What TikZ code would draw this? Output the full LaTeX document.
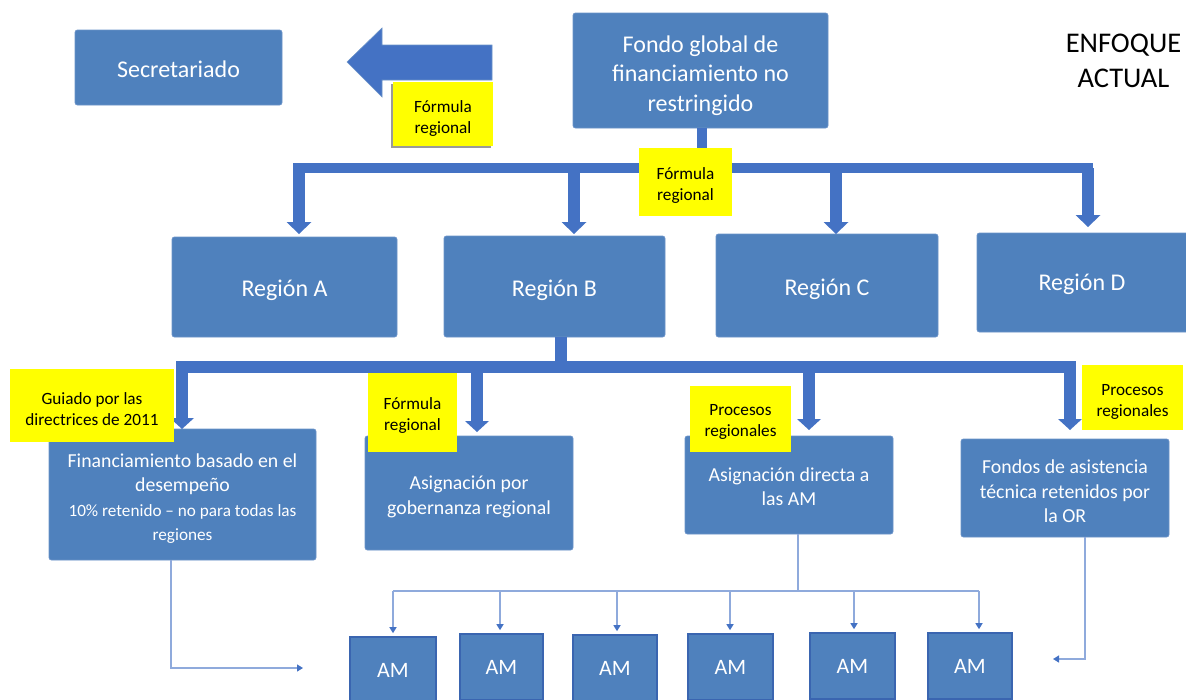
\documentclass[tikz,border=0pt]{standalone}
\usepackage{fontspec}
\setmainfont{Carlito}
\usetikzlibrary{arrows.meta}
\definecolor{boxblue}{HTML}{4F81BD}
\definecolor{boxedge}{HTML}{6A93C8}
\definecolor{arrblue}{HTML}{4472C4}
\definecolor{thinblue}{HTML}{8FAADC}
\definecolor{amedge}{HTML}{3A65B0}
\definecolor{yel}{HTML}{FFFF00}
\definecolor{shadowgray}{HTML}{9A9A9A}
\begin{document}
\begin{tikzpicture}[x=1pt,y=-1pt,
 box/.style={fill=boxblue,draw=boxedge,line width=0.8pt,rounded corners=2.5pt,inner sep=0pt},
 wtxt/.style={text=white,align=center,inner sep=0pt},
 btxt/.style={text=black,align=center,inner sep=0pt,font=\fontsize{17.2}{21}\selectfont},
 big/.style={font=\fontsize{24}{29.5}\selectfont},
 med/.style={font=\fontsize{19.8}{24.5}\selectfont},
 ylab/.style={fill=yel,inner sep=0pt},
 am/.style={fill=boxblue,draw=amedge,line width=1.6pt,text=white,inner sep=0pt,font=\fontsize{22}{26}\selectfont,minimum height=66pt},
 thickline/.style={draw=arrblue,line width=10pt},
 shaft/.style={draw=arrblue,line width=12pt},
 thinline/.style={draw=thinblue,line width=1.3pt},
 thinarr/.style={thinline,-{Triangle[width=7pt,length=6pt,color=arrblue]}},
]
\useasboundingbox (0,0) rectangle (1186,699);
\clip (0,0) rectangle (1186,699);

% top boxes
\node[box,minimum width=207pt,minimum height=75pt] (sec) at (178.5,67.5) {};
\node[wtxt,big] (sec-t) at ([yshift=-2pt]sec.center) {Secretariado};
\node[box,minimum width=255pt,minimum height=115pt] (fondo) at (700.5,70.5) {};
\node[wtxt,big] (fondo-t) at ([yshift=-5pt]fondo.center) {Fondo global de\\financiamiento no\\restringido};
\node[align=center,inner sep=0pt,font=\fontsize{28.5}{35}\selectfont] (enf) at (1123.5,61) {ENFOQUE\\ACTUAL};

% block arrow
\filldraw[fill=arrblue,draw=boxedge,line width=0.6pt] (347,62) -- (382,28) -- (382,45) -- (492,45) -- (492,80) -- (382,80) -- (382,97) -- cycle;

% regions
\node[box,minimum width=225pt,minimum height=100pt] (ra) at (284.5,287) {};
\node[wtxt,big] (ra-t) at ([yshift=-3.5pt]ra.center) {Región A};
\node[box,minimum width=221pt,minimum height=101pt] (rb) at (554.5,286.5) {};
\node[wtxt,big] (rb-t) at ([yshift=-4pt]rb.center) {Región B};
\node[box,minimum width=222pt,minimum height=103pt] (rc) at (827,285.5) {};
\node[wtxt,big] (rc-t) at ([yshift=-4pt]rc.center) {Región C};
\node[box,minimum width=214pt,minimum height=99pt] (rd) at (1084,282.5) {};
\node[wtxt,big] (rd-t) at (1082,284.5) {Región D};

% lower boxes
\node[box,minimum width=267pt,minimum height=131pt] (fin) at (182.5,494.5) {};
\node[wtxt,med] (fin-t) at ([yshift=-4pt]fin.center) {Financiamiento basado en el\\desempeño\\\fontsize{17.2}{22}\selectfont 10\% retenido – no para todas las\\\fontsize{17.2}{22}\selectfont regiones};
\node[box,minimum width=208pt,minimum height=114pt] (ag) at (469,493) {};
\node[wtxt,med] (ag-t) at ([yshift=-4pt]ag.center) {Asignación por\\gobernanza regional};
\node[box,minimum width=208pt,minimum height=98pt] (ad) at (789,485) {};
\node[wtxt,med] (ad-t) at ([yshift=-1.5pt]ad.center) {Asignación directa a\\las AM};
\node[box,minimum width=208pt,minimum height=98pt] (fa) at (1065,488) {};
\node[wtxt,med] (fa-t) at ([yshift=-3.5pt]fa.center) {Fondos de asistencia\\técnica retenidos por\\la OR};

% AM boxes
\node[am,minimum width=86pt] (am1) at (393,670) {AM};
\node[am,minimum width=83pt] (am2) at (501.5,667) {AM};
\node[am,minimum width=84pt] (am3) at (615,668) {AM};
\node[am,minimum width=85pt] (am4) at (730.5,667) {AM};
\node[am,minimum width=85pt] (am5) at (852.5,666) {AM};
\node[am,minimum width=84pt] (am6) at (970,666) {AM};

% top tree
\coordinate (b1L) at (293,168);
\coordinate (b1R) at (1093,168);
\coordinate (s1) at (702,168);
\coordinate (tA) at (299,234);
\coordinate (tB) at (574,234);
\coordinate (tC) at (836,234);
\coordinate (tD) at (1088,227);
\draw[thickline] (fondo.south -| s1) -- (s1);
\draw[thickline] (b1L) -- (b1R);
\foreach \t in {tA,tB,tC,tD}{
  \draw[shaft] (\t |- b1L) -- ([yshift=11pt]\t);
  \fill[arrblue] ([shift={(-12.5pt,12pt)}]\t) -- ([shift={(12.5pt,12pt)}]\t) -- (\t) -- cycle;
}

% lower tree
\coordinate (b2L) at (176,366.5);
\coordinate (b2R) at (1076,366.5);
\coordinate (s2) at (561,366.5);
\coordinate (t1) at (182,429);
\coordinate (t2) at (477,432);
\coordinate (t3) at (809,430);
\coordinate (t4) at (1070,430);
\draw[shaft] (rb.south -| s2) -- (s2);
\draw[shaft] (b2L) -- (b2R);
\foreach \t in {t1,t2,t3,t4}{
  \draw[shaft] (\t |- b2L) -- ([yshift=11pt]\t);
  \fill[arrblue] ([shift={(-12pt,11pt)}]\t) -- ([shift={(12pt,11pt)}]\t) -- (\t) -- cycle;
}

% thin connectors
\coordinate (c1) at (171,668);
\coordinate (e1) at (303,668);
\draw[thinarr] (fin.south -| c1) -- (c1) -- (e1);
\coordinate (d0) at (798,591);
\coordinate (a1) at (393,591);
\coordinate (a2) at (500,591);
\coordinate (a3) at (617,591);
\coordinate (a4) at (730,591);
\coordinate (a5) at (854,591);
\coordinate (a6) at (979,591);
\draw[thinline] (ad.south -| d0) -- (d0);
\draw[thinline] (a1) -- (a6);
\draw[thinarr,shorten >=3pt] (a1) -- (a1 |- am1.north);
\draw[thinarr,shorten >=3pt] (a2) -- (a2 |- am2.north);
\draw[thinarr,shorten >=3pt] (a3) -- (a3 |- am3.north);
\draw[thinarr,shorten >=3pt] (a4) -- (a4 |- am4.north);
\draw[thinarr,shorten >=3pt] (a5) -- (a5 |- am5.north);
\draw[thinarr,shorten >=3pt] (a6) -- (a6 |- am6.north);
\coordinate (f1) at (1085,659);
\coordinate (e2) at (1053,659);
\draw[thinarr] (fa.south -| f1) -- (f1) -- (e2);

% yellow labels
\node[fill=shadowgray,inner sep=0pt,minimum width=100pt,minimum height=64pt] (y0s) at (441,116) {};
\node[ylab,minimum width=100pt,minimum height=64pt] (y0) at (443,114) {};
\node[btxt] (y0-t) at ([yshift=-4.5pt]y0.center) {Fórmula\\regional};
\node[ylab,minimum width=93pt,minimum height=68pt] (y1) at (685.5,182) {};
\node[btxt] (y1-t) at ([yshift=-4pt]y1.center) {Fórmula\\regional};
\node[ylab,minimum width=164pt,minimum height=73pt] (y2) at (92,405.5) {};
\node[btxt] (y2-t) at ([yshift=-3.5pt]y2.center) {Guiado por las\\directrices de 2011};
\node[ylab,minimum width=89pt,minimum height=79pt] (y3) at (412.5,412.5) {};
\node[btxt] (y3-t) at ([yshift=-3.5pt]y3.center) {Fórmula\\regional};
\node[ylab,minimum width=101pt,minimum height=66pt] (y4) at (740.5,419) {};
\node[btxt] (y4-t) at ([yshift=-2.5pt]y4.center) {Procesos\\regionales};
\node[ylab,minimum width=101pt,minimum height=65pt] (y5) at (1132.5,397.5) {};
\node[btxt] (y5-t) at ([yshift=-4.5pt]y5.center) {Procesos\\regionales};
\end{tikzpicture}
\end{document}
